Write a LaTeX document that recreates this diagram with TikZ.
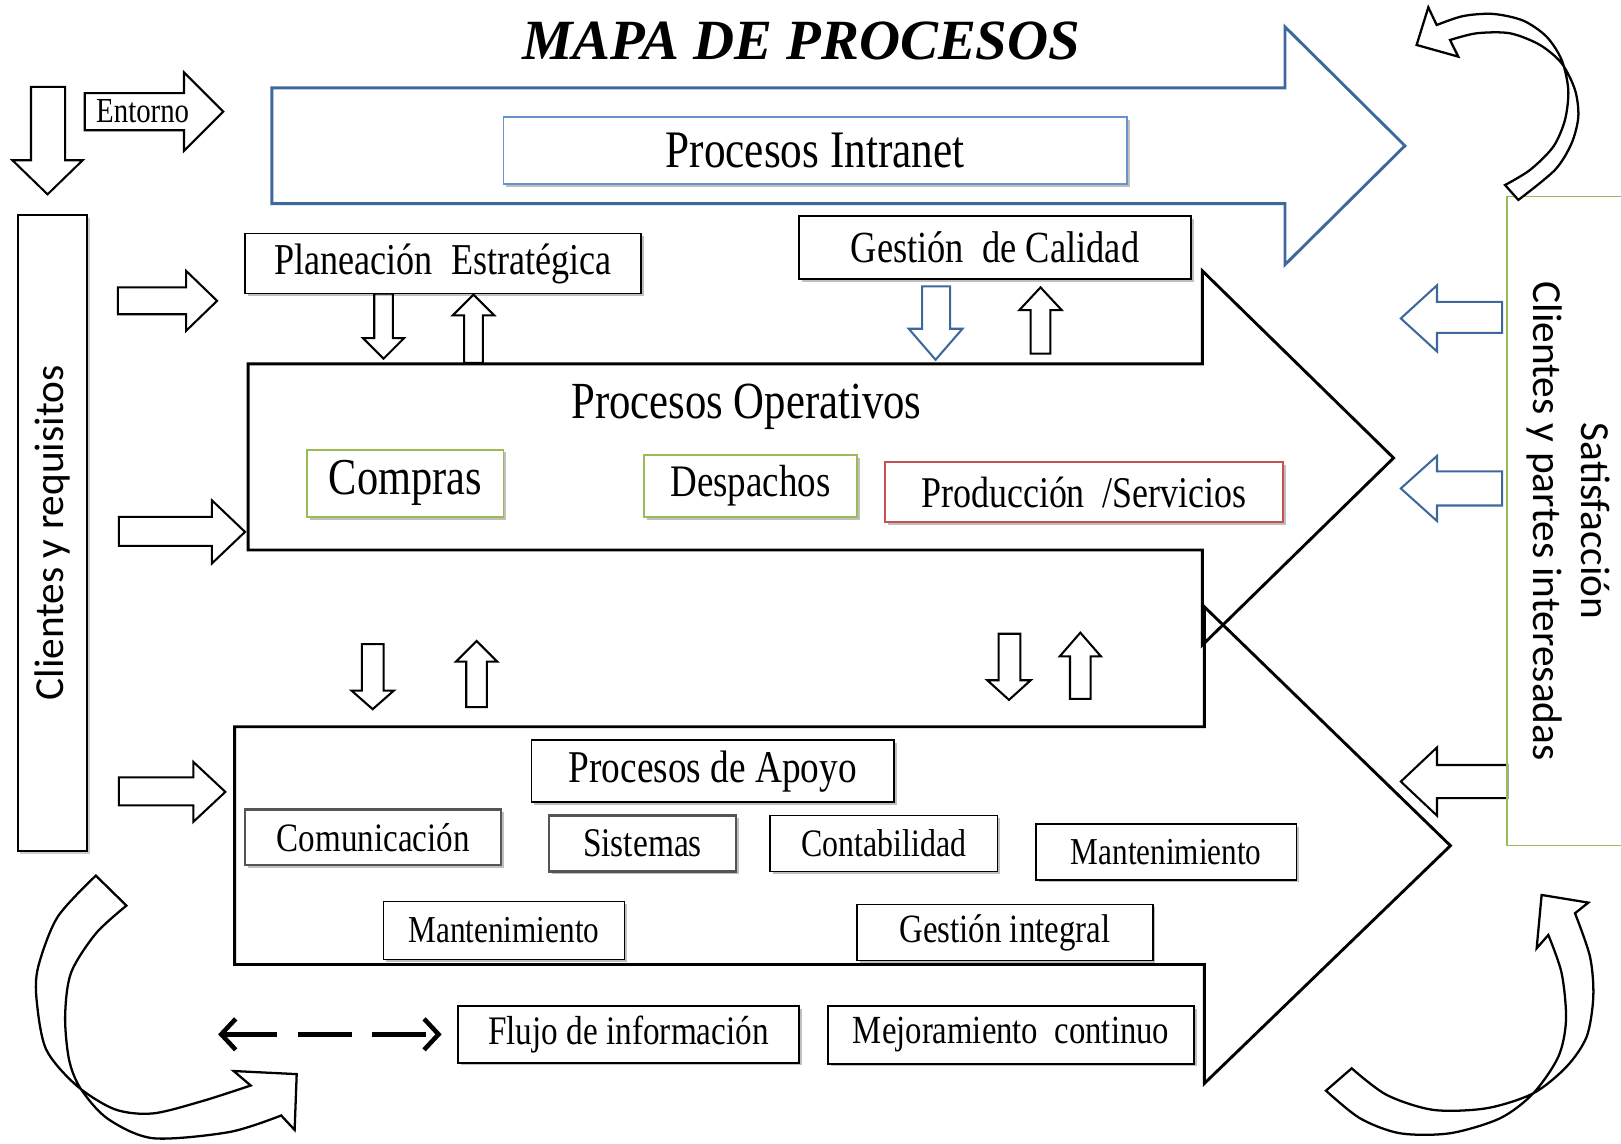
\documentclass[tikz,border=0pt]{standalone}
\usepackage{fontspec}
\setmainfont{Liberation Serif}
\newfontfamily\tnr[FakeStretch=0.82]{Liberation Serif}
\newfontfamily\ttl{Liberation Serif}
\newfontfamily\calfont{Carlito}
\usetikzlibrary{arrows.meta,shadows}
\definecolor{blueA}{RGB}{62,104,156}
\definecolor{blueB}{RGB}{105,145,205}
\definecolor{greenA}{RGB}{155,187,89}
\definecolor{redA}{RGB}{200,80,80}
\definecolor{grayA}{RGB}{85,85,85}
\newcommand\fsz[1]{\fontsize{#1pt}{#1pt}\selectfont}
\newcommand{\blockv}[8][]{\draw[blk,#1] (#2,#4) -- (#3,#4) -- (#3,#5) -- (#7,#5) -- ({(#6+#7)/2},#8) -- (#6,#5) -- (#2,#5) -- cycle;}
\newcommand{\blockh}[8][]{\draw[blk,#1] (#4,#2) -- (#5,#2) -- (#5,#6) -- (#8,{(#6+#7)/2}) -- (#5,#7) -- (#5,#3) -- (#4,#3) -- cycle;}
\tikzset{
  blk/.style={draw=black, line width=1pt, fill=white, line join=miter, miter limit=20},
  big/.style={draw=black, line width=1.4pt, line join=miter, miter limit=20},
  bigblue/.style={draw=blueA, line width=1.4pt, line join=miter, miter limit=20},
  curv/.style={draw=black, line width=1.1pt, fill=white, line join=miter},
  tbox/.style={draw=black, line width=0.8pt, fill=white, inner sep=0pt, align=center,
    drop shadow={shadow xshift=1.3pt, shadow yshift=-1.3pt, opacity=0.25, fill=black}},
  dasharr/.style={line width=2.2pt, dash pattern=on 26pt off 10pt,
    {Straight Barb[length=7pt,width=15pt]}-{Straight Barb[length=7pt,width=15pt]}, shorten >=7.5pt}
}
\begin{document}
\begin{tikzpicture}[x=0.5pt,y=-0.5pt]
\useasboundingbox (0,0) rectangle (1568,1106);

% title
\node[font={\ttl\bfseries\itshape\fsz{27.5}}, anchor=base, inner sep=0pt] (title) at (775,58) {MAPA DE PROCESOS};

% big process arrows
\draw[bigblue] (263,85) -- (1243,85) -- (1243,26) -- (1359,141) -- (1243,256) -- (1243,197) -- (263,197) -- cycle;
\draw[big] (240,352) -- (1163,352) -- (1163,262) -- (1348,443) -- (1163,624) -- (1163,532) -- (240,532) -- cycle;
\draw[big] (227,703) -- (1165,703) -- (1165,587) -- (1403,818) -- (1165,1048) -- (1165,933) -- (227,933) -- cycle;

% vertical block arrows
\blockv{30}{63}{84}{155}{12}{80}{188}
\blockv{362}{380}{284}{327}{351}{391}{347}
\blockv{449}{467}{351}{305}{438}{478}{285}
\blockv[draw=blueA]{892}{919}{277}{318}{879}{931}{348}
\blockv{997}{1016}{342}{300}{986}{1027}{278}
\blockv{350}{371}{623}{668}{340}{381}{686}
\blockv{451}{471}{684}{640}{441}{481}{620}
\blockv{966}{987}{613}{658}{955}{997}{677}
\blockv{1035}{1055}{676}{635}{1025}{1065}{612}

% horizontal block arrows
\blockh{90}{126}{82}{178}{70}{146}{216}
\blockh{278}{304}{114}{180}{262}{320}{210}
\blockh{500}{528}{115}{205}{484}{545}{237}
\blockh{752}{779}{115}{187}{737}{795}{218}
\blockh[draw=blueA]{292}{322}{1453}{1390}{276}{340}{1355}
\blockh[draw=blueA]{456}{489}{1453}{1390}{441}{504}{1355}
\blockh{740}{772}{1458}{1390}{723}{789}{1355}

\node[font={\tnr\fsz{17}}, inner sep=0pt] (ent) at (138,108) {Entorno};

% side panels
\node[draw=black, line width=0.9pt, rotate=90, minimum width=307.5pt, minimum height=33.5pt,
  font={\calfont\fsz{20}}, inner sep=0pt,
  drop shadow={shadow xshift=1.3pt, shadow yshift=-1.3pt, opacity=0.2, fill=black}, fill=white]
  (cli) at (50.5,515.5) {Clientes y requisitos};
\draw[draw=greenA, line width=0.8pt] (1600,190) -- (1458,190) -- (1458,818) -- (1600,818);
\node[rotate=-90, align=center, font={\calfont\fontsize{20pt}{23.5pt}\selectfont}, inner sep=0pt]
  (sat) at (1517,504) {Satisfacción\\Clientes y partes interesadas};

% text boxes
\node[tbox, draw=blueB, line width=0.9pt, minimum width=301.5pt, minimum height=32.5pt, font={\tnr\fsz{25.5}}] (intr) at (788.5,145.5) {Procesos Intranet};
\node[tbox, minimum width=191.5pt, minimum height=29pt, font={\tnr\fsz{21.3}}] (plan) at (428.5,255) {Planeación\ \ Estratégica};
\node[tbox, minimum width=189.5pt, minimum height=30.5pt, font={\tnr\fsz{21.5}}] (gcal) at (962.5,239.5) {Gestión\ \ de Calidad};
\node[font={\tnr\fsz{25.2}}, anchor=base, inner sep=0pt] (oper) at (722,405) {Procesos Operativos};
\node[tbox, draw=greenA, minimum width=95pt, minimum height=32.5pt, font={\tnr\fsz{25}}] (comp) at (392,467.5) {Compras};
\node[tbox, draw=greenA, minimum width=103pt, minimum height=30pt, font={\tnr\fsz{21.8}}] (desp) at (726,470) {Despachos};
\node[tbox, draw=redA, minimum width=192.5pt, minimum height=29pt, font={\tnr\fsz{21.2}}] (prod) at (1048.5,476) {Producción\ \ /Servicios};
\node[tbox, minimum width=175.5pt, minimum height=30pt, font={\tnr\fsz{22}}] (apoyo) at (689.5,746) {Procesos de Apoyo};
\node[tbox, draw=grayA, line width=1pt, minimum width=124pt, minimum height=27pt, font={\tnr\fsz{19.5}}] (comun) at (361,810) {Comunicación};
\node[tbox, draw=grayA, line width=1.2pt, minimum width=90.5pt, minimum height=27pt, font={\tnr\fsz{19.7}}] (sist) at (621.5,816) {Sistemas};
\node[tbox, minimum width=110pt, minimum height=27pt, font={\tnr\fsz{18.8}}] (conta) at (855,816) {Contabilidad};
\node[tbox, minimum width=126pt, minimum height=27pt, font={\tnr\fsz{18.4}}] (mantR) at (1128,824) {Mantenimiento};
\node[tbox, minimum width=116.5pt, minimum height=28pt, font={\tnr\fsz{18.4}}] (mantL) at (487.5,900) {Mantenimiento};
\node[tbox, minimum width=143pt, minimum height=27pt, font={\tnr\fsz{19.4}}] (gint) at (972,902) {Gestión integral};
\node[tbox, minimum width=165pt, minimum height=27.5pt, font={\tnr\fsz{19.6}}] (flujo) at (608,1000.5) {Flujo de información};
\node[tbox, minimum width=177pt, minimum height=28pt, font={\tnr\fsz{19.3}}] (mejora) at (978,1001) {Mejoramiento\ \ continuo};

% dashed information-flow connector
\coordinate (fl) at (211,1000.5);
\draw[dasharr] (fl) -- (flujo.west);

% curved block arrows
\draw[curv] plot[smooth] coordinates {(1455.8,179) (1480,164.4) (1502.5,141.9) (1513.8,116) (1517,87) (1510.6,58) (1496,35.5) (1473.5,20) (1444.5,13.5) (1415.5,15.5) (1389.7,24.2)}
  -- (1381.6,7.1) -- (1370.3,43.5) -- (1410.6,54.8) -- (1402.6,38.7)
  -- plot[smooth] coordinates {(1402.6,38.7) (1428.4,32.2) (1460.6,32.2) (1489.6,43.5) (1510.6,61.3) (1523.5,87) (1526.7,112.8) (1520.2,138.6) (1504.1,164.4) (1468.7,193.4)} -- cycle;

\draw[curv] plot[smooth] coordinates {(92.7,847) (55.7,887) (37,935) (35.4,967) (44.6,1015) (74,1050) (111,1073) (148,1077) (196,1065) (242.5,1050)}
  -- (226,1036) -- (287,1039) -- (285,1093) -- (272,1079)
  -- plot[smooth] coordinates {(272,1079) (222,1095) (148,1101) (104,1082) (78,1053) (66.8,1025) (63,983) (68.7,941) (92.7,903) (122.3,876)} -- cycle;

\draw[curv] plot[smooth] coordinates {(1282.6,1055) (1315.5,1081.7) (1354.2,1096.2) (1402.6,1096.2) (1451,1081.7) (1483.2,1057.5) (1507.4,1022.1) (1514.8,986.6) (1510.6,941.5) (1497.7,904.4)}
  -- (1486.4,917.3) -- (1491.2,865.7) -- (1536.4,873.1) -- (1523.5,883.4)
  -- plot[smooth] coordinates {(1523.5,883.4) (1538,925.4) (1541.2,964) (1534.8,1002.7) (1515.4,1031.7) (1483.2,1057.5) (1438,1072) (1386.5,1073.6) (1341.3,1059.1) (1307.5,1033.4)} -- cycle;

\end{tikzpicture}
\end{document}
